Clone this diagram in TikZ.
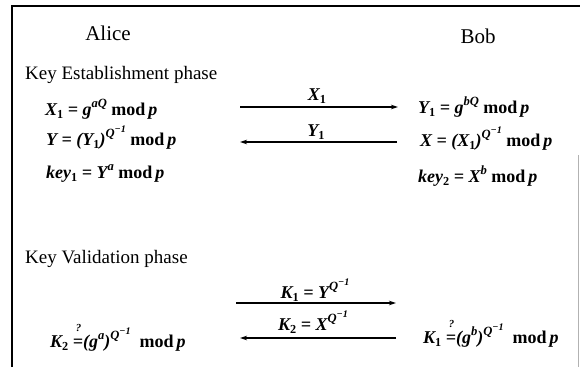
\documentclass[tikz,border=0pt]{standalone}
\usepackage{fontspec}
\setmainfont{Liberation Serif}
\usepackage{graphicx}
\usetikzlibrary{arrows.meta}
\newcommand\bi[1]{\textbf{\textit{#1}}}
\newcommand\upx[1]{\raisebox{0.42em}{\scalebox{0.7}{#1}}}
\newcommand\upy[1]{\raisebox{0.38em}{\scalebox{0.8}{#1}}}
\newcommand\dnx[1]{\raisebox{-0.22em}{\scalebox{0.68}{\upshape #1}}}
\newcommand\md{{\upshape mod}\,p}
\newcommand\qeq{\makebox[0pt][l]{\raisebox{0.85em}{\hspace{0.17em}\scalebox{0.6}{?}}}=}
\begin{document}
\begin{tikzpicture}[x=1pt,y=-1pt,
  lbl/.style={anchor=base west,inner sep=0pt,font=\fontsize{19}{22}\selectfont},
  who/.style={anchor=base,inner sep=0pt,font=\fontsize{21}{24}\selectfont},
  fml/.style={anchor=base west,inner sep=0pt,font=\fontsize{18}{21}\selectfont\bfseries\itshape},
  msg/.style={anchor=base,inner sep=0pt,font=\fontsize{18}{21}\selectfont\bfseries\itshape},
  arr/.style={line width=1.1pt,-{Stealth[length=7pt,width=4.5pt]}}]
\useasboundingbox (0,0) rectangle (580,367);
\draw[line width=1.6pt] (12,367) -- (12,6) -- (580,6);
\draw[gray!60,line width=0.8pt] (578.5,155) -- (578.5,367);
% headings
\node[who] (alice) at (108,40) {Alice};
\node[who] (bob) at (478,43) {Bob};
\node[lbl] (kep) at (25,79) {Key Establishment phase};
\node[lbl] (kvp) at (25,263) {Key Validation phase};
% Alice
\node[fml] (a1) at (45,115) {X\dnx{1} = g\upx{aQ} \md};
\node[fml] (a2) at (46,145) {Y = (Y\dnx{1})\upx{Q\upy{−1}} \md};
\node[fml] (a3) at (46,178) {key\dnx{1} = Y\upx{a} \md};
\node[fml] (a4) at (50,347) {K\dnx{2} \qeq (g\upx{a})\upx{Q\upy{−1}}\ \ \md};
% Bob
\node[fml] (b1) at (418,113) {Y\dnx{1} = g\upx{bQ} \md};
\node[fml] (b2) at (420,146) {X = (X\dnx{1})\upx{Q\upy{−1}} \md};
\node[fml] (b3) at (418,182) {key\dnx{2} = X\upx{b} \md};
\node[fml] (b4) at (423,343) {K\dnx{1} \qeq (g\upx{b})\upx{Q\upy{−1}}\ \ \md};
% messages
\coordinate (m1l) at (240,107); \coordinate (m1r) at (398,107);
\coordinate (m2l) at (240,142); \coordinate (m2r) at (397,142);
\coordinate (m3l) at (236,303); \coordinate (m3r) at (396,303);
\coordinate (m4l) at (240,338); \coordinate (m4r) at (396,338);
\draw[arr] (m1l) -- (m1r);
\draw[arr] (m2r) -- (m2l);
\draw[arr] (m3l) -- (m3r);
\draw[arr] (m4r) -- (m4l);
\node[msg] (l1) at (317,100) {X\dnx{1}};
\node[msg] (l2) at (316,136) {Y\dnx{1}};
\node[msg] (l3) at (315,298) {K\dnx{1} = Y\upx{Q\upy{−1}}};
\node[msg] (l4) at (313,330) {K\dnx{2} = X\upx{Q\upy{−1}}};
\end{tikzpicture}
\end{document}
